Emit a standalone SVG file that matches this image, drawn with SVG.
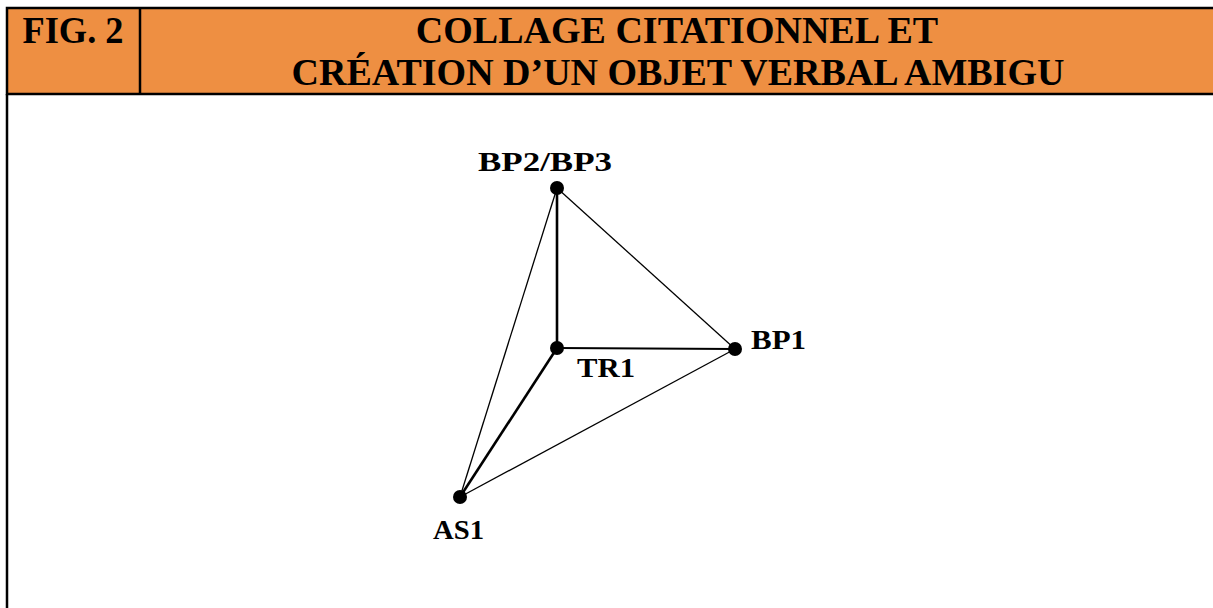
<svg xmlns="http://www.w3.org/2000/svg" width="1213" height="608" viewBox="0 0 1213 608">
<style>
.hdr{font-family:"Liberation Serif","Times New Roman",serif;font-weight:bold;font-size:38px;fill:#000}
.lbl{font-family:"Liberation Serif","Times New Roman",serif;font-weight:bold;font-size:28px;fill:#000}
.thin{stroke:#000;stroke-width:1.3;fill:none}
.thick{stroke:#000;stroke-width:2.6;fill:none}
.dot{fill:#000}
</style>
<rect x="0" y="0" width="1213" height="608" fill="#fff"/>
<g id="header">
<rect x="7" y="8" width="1210" height="86" fill="#EE8F42" stroke="#000" stroke-width="2.5"/>
<line x1="140" y1="8" x2="140" y2="94" stroke="#000" stroke-width="2.5"/>
<text class="hdr" x="73" y="43" text-anchor="middle" textLength="101" lengthAdjust="spacingAndGlyphs">FIG. 2</text>
<text class="hdr" x="677" y="43" text-anchor="middle">COLLAGE CITATIONNEL ET</text>
<text class="hdr" x="678" y="85" text-anchor="middle">CRÉATION D’UN OBJET VERBAL AMBIGU</text>
</g>
<line x1="7" y1="94" x2="7" y2="608" stroke="#000" stroke-width="2.5"/>
<g id="connectors">
<line class="thick" x1="557" y1="188" x2="557" y2="348"/>
<line class="thick" x1="557" y1="348" x2="735" y2="349" style="stroke-width:2.2"/>
<line class="thick" x1="557" y1="348" x2="460" y2="497"/>
<line class="thin" x1="557" y1="188" x2="460" y2="497"/>
<line class="thin" x1="557" y1="188" x2="735" y2="349"/>
<line class="thin" x1="460" y1="497" x2="735" y2="349"/>
</g>
<g id="BP2_BP3"><circle class="dot" cx="557" cy="188" r="7"/><text class="lbl" x="478" y="171" textLength="134" lengthAdjust="spacingAndGlyphs">BP2/BP3</text></g>
<g id="TR1"><circle class="dot" cx="557" cy="348" r="7"/><text class="lbl" x="577" y="377" textLength="58" lengthAdjust="spacingAndGlyphs">TR1</text></g>
<g id="BP1"><circle class="dot" cx="735" cy="349" r="7"/><text class="lbl" x="751" y="349" textLength="55" lengthAdjust="spacingAndGlyphs">BP1</text></g>
<g id="AS1"><circle class="dot" cx="460" cy="497" r="7"/><text class="lbl" x="433" y="539" textLength="51" lengthAdjust="spacingAndGlyphs">AS1</text></g>
</svg>
